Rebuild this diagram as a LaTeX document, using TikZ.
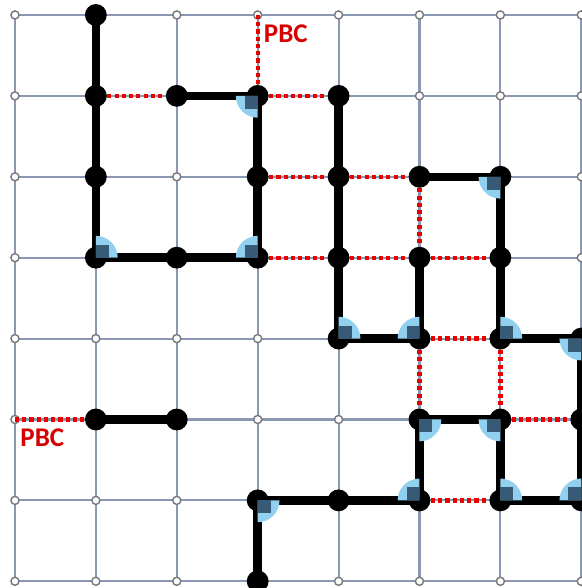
\documentclass[tikz,border=0pt]{standalone}
\usepackage{fontspec}
\setmainfont{Carlito}
\definecolor{gridc}{RGB}{138,152,180}
\definecolor{ringc}{RGB}{120,120,125}
\definecolor{pbcred}{RGB}{235,0,0}
\definecolor{txtred}{RGB}{215,0,0}
\definecolor{lblue}{RGB}{146,208,240}
\definecolor{dblue}{RGB}{55,90,118}
\tikzset{
  gridline/.style={draw=gridc, line width=0.75pt},
  site/.style={circle, draw=ringc, fill=white, line width=0.5pt, inner sep=0pt, minimum size=0.1cm},
  bead/.style={circle, fill=black, inner sep=0pt, minimum size=0.27cm},
  bond/.style={draw=black, line width=3pt},
  pbcbond/.style={draw=pbcred, line width=1.5pt, dash pattern=on 1.45pt off 1.1pt},
  pbclabel/.style={text=txtred, font=\bfseries\fontsize{9.5pt}{10pt}\selectfont, inner sep=0pt, anchor=west},
  angmark/.pic={
    \fill[lblue] (0,0) -- (0.27cm,0) arc[start angle=0, end angle=-90, radius=0.27cm] -- cycle;
    \fill[dblue] (0,0) rectangle (0.16cm,-0.16cm);
  }
}
\begin{document}
\begin{tikzpicture}[x=1cm, y=-1cm]
\useasboundingbox (-0.185,-0.185) rectangle (6.997,7.083);
% grid
\foreach \i in {0,...,7} {
  \draw[gridline] (\i,0) -- (\i,7);
  \draw[gridline] (0,\i) -- (7,\i);
}
\foreach \i in {0,...,7} {
  \foreach \j in {0,...,7} {
    \node[site] (s\i\j) at (\i,\j) {};
  }
}
% free ends of PBC connectors
\coordinate (pbcT) at (3,0);
\coordinate (pbcL) at (0,5);
% beads
\foreach \x/\y in {1/0,1/1,1/2,1/3,2/3,3/3,3/2,3/1,2/1,
                   4/1,4/2,4/3,4/4,5/4,5/3,
                   5/2,6/2,6/3,6/4,7/4,7/5,7/6,6/6,6/5,5/5,5/6,4/6,3/6,3/7,
                   1/5,2/5} {
  \node[bead] (b\x\y) at (\x,\y) {};
}
% PBC / non-bonded connectors
\foreach \a/\b in {b11/b21, pbcT/b31, b31/b41, b32/b42, b42/b52,
                   b33/b43, b43/b53, b53/b63, b52/b53,
                   b54/b64, b54/b55, b64/b65, b65/b75, b56/b66, pbcL/b15} {
  \draw[pbcbond] (\a) -- (\b);
}
% chains
\draw[bond, line join=miter] (b10.center) -- (b11.center) -- (b12.center) -- (b13.center)
  -- (b23.center) -- (b33.center) -- (b32.center) -- (b31.center) -- (b21.center);
\draw[bond, line join=miter] (b41.center) -- (b42.center) -- (b43.center) -- (b44.center)
  -- (b54.center) -- (b53.center);
\draw[bond, line join=miter] (b52.center) -- (b62.center) -- (b63.center) -- (b64.center)
  -- (b74.center) -- (b75.center) -- (b76.center) -- (b66.center) -- (b65.center)
  -- (b55.center) -- (b56.center) -- (b46.center) -- (b36.center) -- (b37.center);
\draw[bond] (b15.center) -- (b25.center);
% angle markers
\foreach \n/\r in {b55/0, b36/0,
                   b13/90, b44/90, b64/90, b66/90,
                   b33/180, b54/180, b56/180, b76/180,
                   b31/270, b62/270, b74/270, b65/270} {
  \pic[rotate=\r] at (\n.center) {angmark};
}
% labels
\node[pbclabel] (lT) at (3.07,0.23) {PBC};
\node[pbclabel] (lL) at (0.06,5.22) {PBC};
\end{tikzpicture}
\end{document}
